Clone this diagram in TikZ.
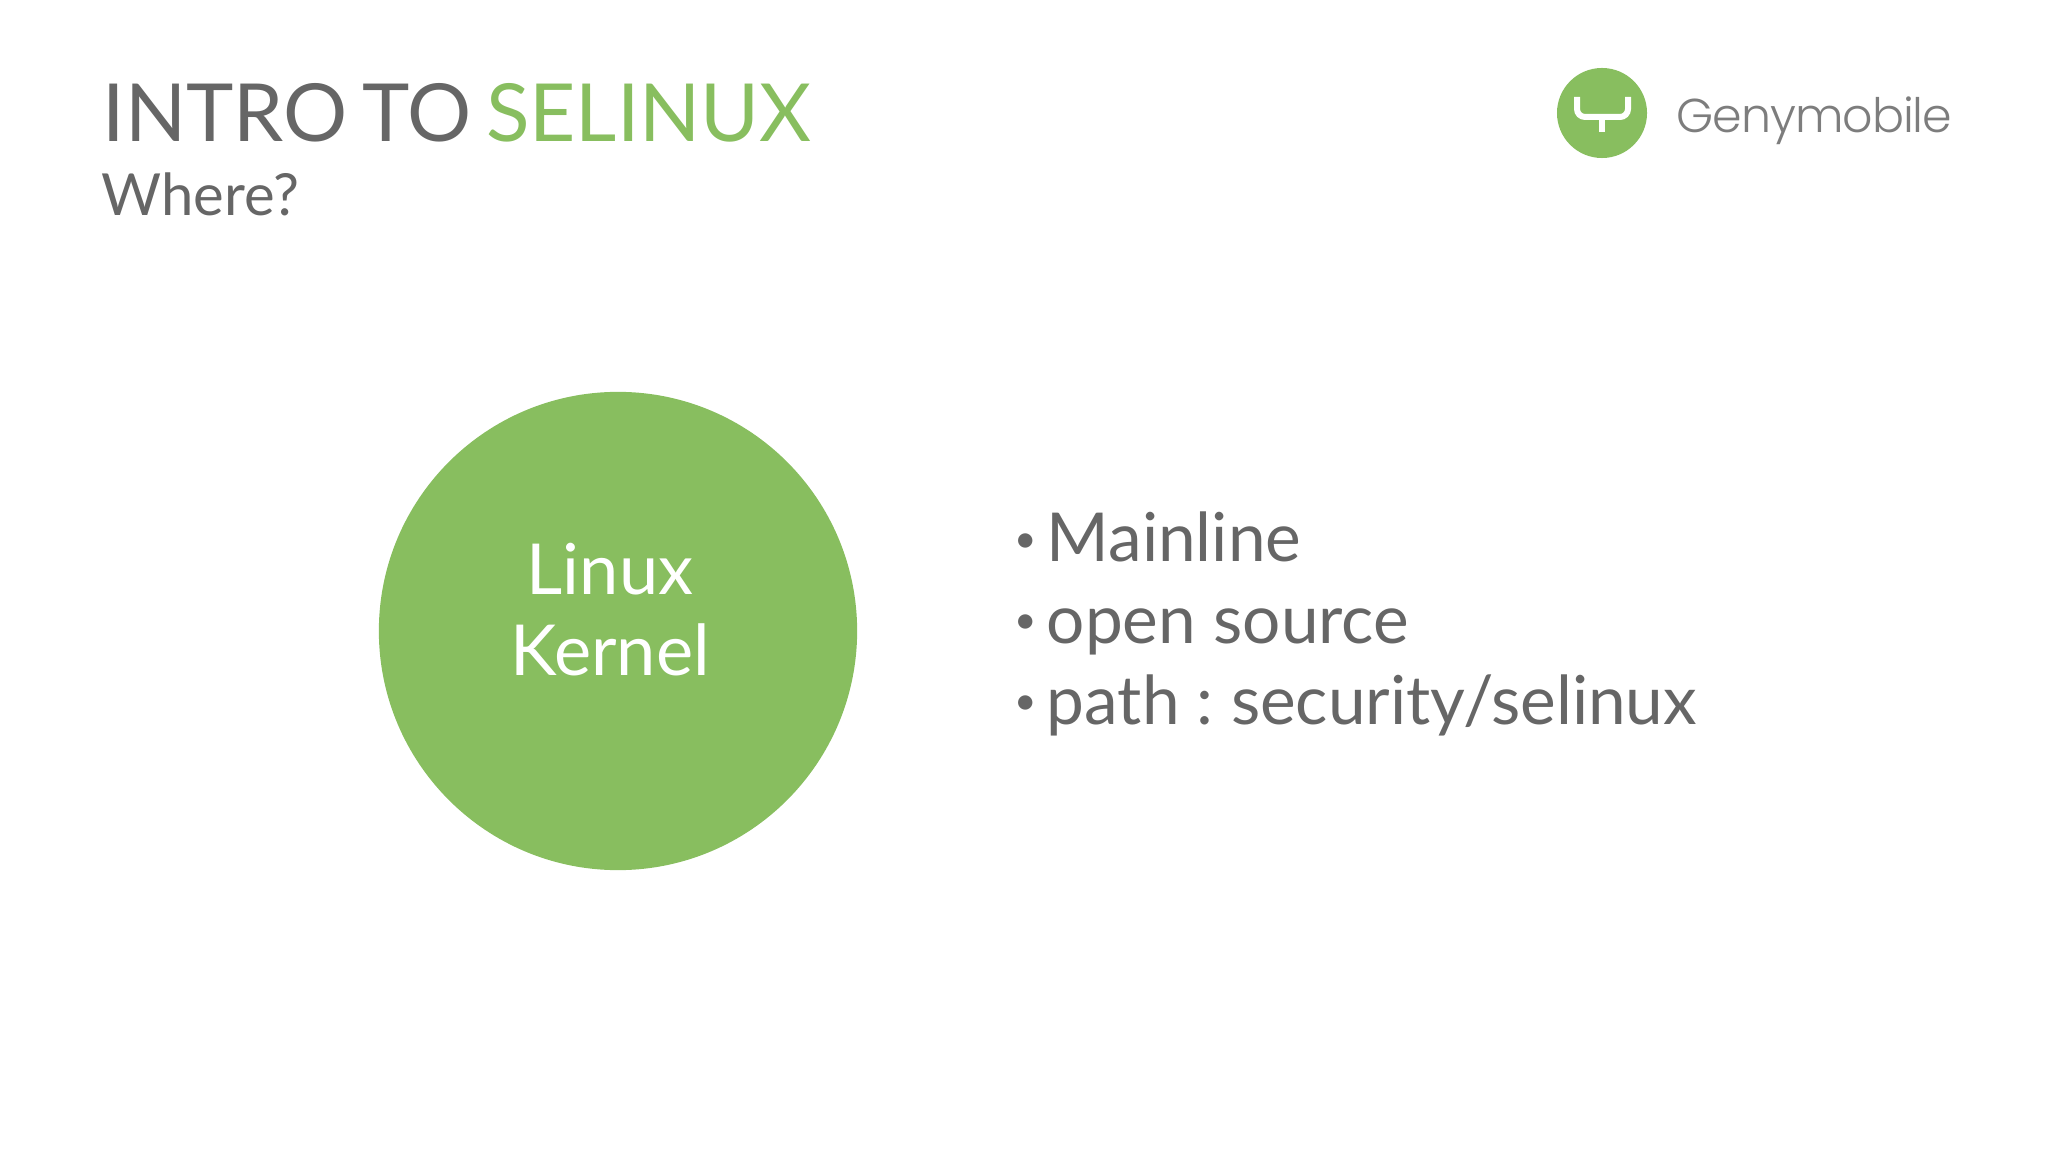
\documentclass[tikz,border=0pt]{standalone}
\usepackage{fontspec}
\setmainfont{Lato}
\newfontfamily\titlefont[WordSpace=0.72]{Lato}
\newfontfamily\logofont[UprightFont=* Light,LetterSpace=-2.2]{Poppins}
\usepackage{tikz}
\usetikzlibrary{positioning}
\definecolor{genygreen}{HTML}{88BE5F}
\definecolor{genygray}{HTML}{666666}
\newcommand{\itembullet}{\makebox[0.32cm][l]{\raisebox{2.6pt}{\fontsize{11}{13}\selectfont •}}}
\frenchspacing

\begin{document}
\begin{tikzpicture}[x=0.01cm,y=-0.01cm]
\tikzstyle{title}=[anchor=base west, inner sep=0mm, text=genygray, font=\titlefont\fontsize{22.8}{27}\selectfont]
\tikzstyle{subtitle}=[anchor=base west, inner sep=0mm, text=genygray, font=\fontsize{16.5}{20}\selectfont]
\tikzstyle{item}=[anchor=base west, inner sep=0mm, text=genygray, font=\fontsize{19.2}{23}\selectfont]
\tikzstyle{main}=[circle, fill=genygreen, inner sep=0mm]
  \useasboundingbox (0,0) rectangle (2048,1152);
  \node[title] (intro) at (102,142) {INTRO TO \textcolor{genygreen}{SELINUX}};
  \node[subtitle] (where) at (101,216) {Where?};
  % kernel
  \node[main, minimum size = 4.78cm] (kernel) at (618,631) {};
  \node[inner sep=0mm, text=white, align=center, font=\fontsize{20}{23}\selectfont] (kernellabel) at (610,610) {Linux\\Kernel};
  % items
  \node[item] (mainline) at (1014,562) {\itembullet Mainline};
  \node[item] (opensource) [below=0.81cm of mainline.base west, anchor=base west] {\itembullet open source};
  \node[item] (path) [below=0.81cm of opensource.base west, anchor=base west] {\itembullet path : security/selinux};
  % logo
  \node[main, minimum size = 0.9cm] (logo) at (1602,113) {};
  \draw[white, line width=0.6mm, rounded corners=0.8mm] (1577,97) -- (1577,117) -- (1628,117) -- (1628,97);
  \draw[white, line width=0.6mm] (1602,117) -- (1602,132);
  \node[inner sep=0mm, anchor=base west, text=genygray!85, font=\logofont\fontsize{13.5}{16}\selectfont] (brand) at (1676,133) {Genymobile};
\end{tikzpicture}
\end{document}
